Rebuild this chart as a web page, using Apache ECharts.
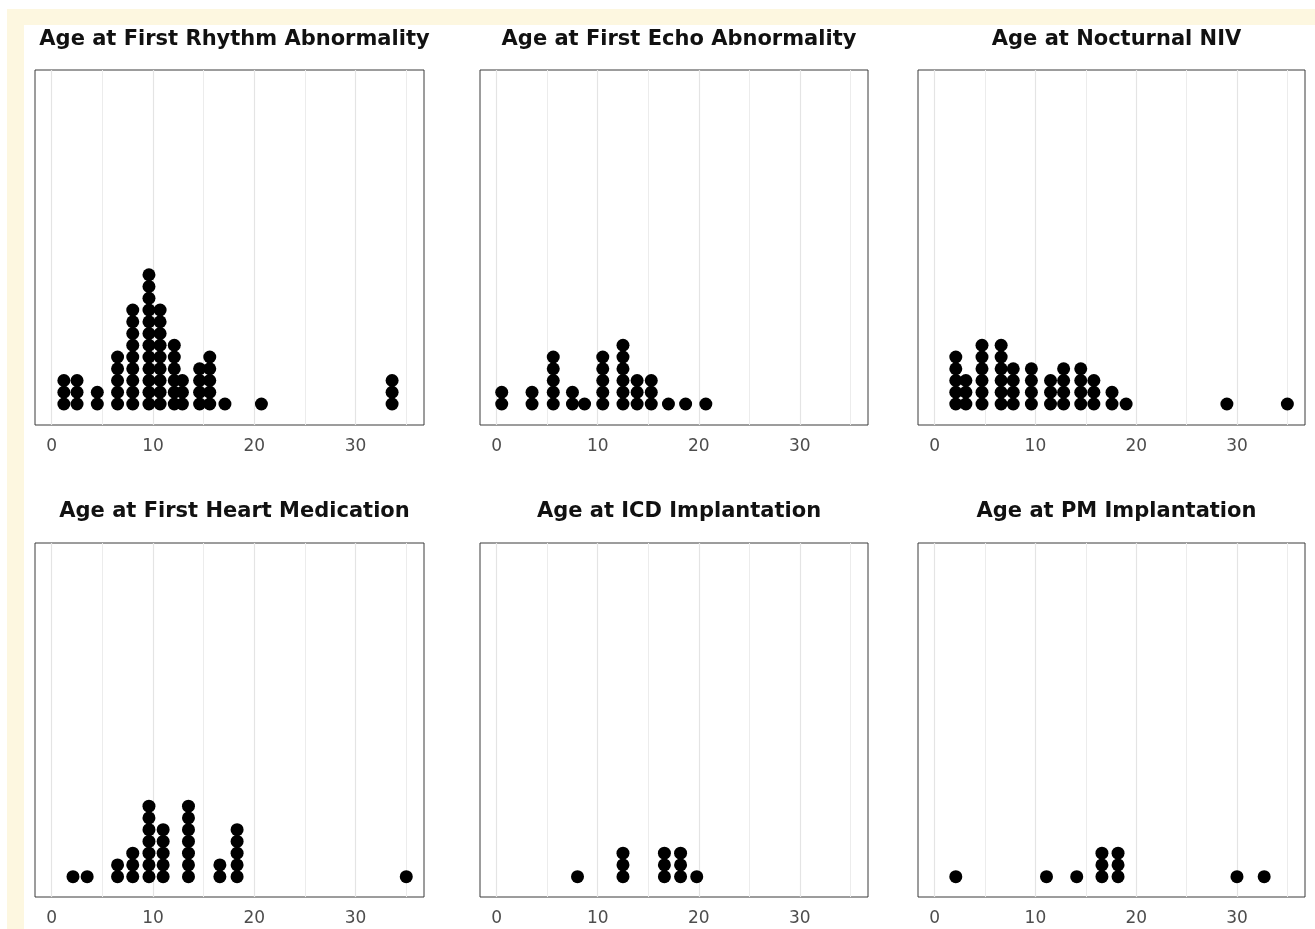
<!DOCTYPE html>
<html>
<head>
<meta charset="utf-8">
<script src="https://cdn.jsdelivr.net/npm/echarts@6/dist/echarts.min.js"></script>
<style>
  html, body { margin: 0; padding: 0; background: #ffffff; }
  #chart { width: 1315px; height: 929px; }
</style>
</head>
<body>
<div id="chart"></div>
<script>
// ---- data (bin centre ages and dot counts per bin) ----
const titles = [
  'Age at First Rhythm Abnormality',
  'Age at First Echo Abnormality',
  'Age at Nocturnal NIV',
  'Age at First Heart Medication',
  'Age at ICD Implantation',
  'Age at PM Implantation'
];
const rhythmAges   = [1.2, 2.5, 4.5, 6.5, 8.0, 9.6, 10.7, 12.1, 12.9, 14.6, 15.6, 17.1, 20.7, 33.6];
const rhythmCounts = [3, 3, 2, 5, 9, 12, 9, 6, 3, 4, 5, 1, 1, 3];
const echoAges     = [0.5, 3.5, 5.6, 7.5, 8.7, 10.5, 12.5, 13.9, 15.3, 17.0, 18.7, 20.7];
const echoCounts   = [2, 2, 5, 2, 1, 5, 6, 3, 3, 1, 1, 1];
const nivAges      = [2.1, 3.1, 4.7, 6.6, 7.8, 9.6, 11.5, 12.8, 14.5, 15.8, 17.6, 19.0, 29.0, 35.0];
const nivCounts    = [5, 3, 6, 6, 4, 4, 3, 4, 4, 3, 2, 1, 1, 1];
const medAges      = [2.1, 3.5, 6.5, 8.0, 9.6, 11.0, 13.5, 16.6, 18.3, 35.0];
const medCounts    = [1, 1, 2, 3, 7, 5, 7, 2, 5, 1];
const icdAges      = [8.0, 12.5, 16.6, 18.2, 19.8];
const icdCounts    = [1, 3, 3, 3, 1];
const pmAges       = [2.1, 11.1, 14.1, 16.6, 18.2, 30.0, 32.7];
const pmCounts     = [1, 1, 1, 3, 3, 1, 1];
const xTickLabels  = [0, 10, 20, 30];
const majorGrid    = [0, 10, 20, 30];
const minorGrid    = [5, 15, 25, 35];

const panels = [
  [rhythmAges, rhythmCounts], [echoAges, echoCounts], [nivAges, nivCounts],
  [medAges, medCounts], [icdAges, icdCounts], [pmAges, pmCounts]
];

// ---- layout ----
const cols = [{left: 35, width: 389}, {left: 480, width: 388}, {left: 918, width: 387}];
const rows = [
  {top: 70, height: 355, ymin: -0.787, ymax: 29.43, titleTop: 24},
  {top: 543, height: 354, ymin: -0.728, ymax: 29.40, titleTop: 496}
];

const grid = [], xAxis = [], yAxis = [], series = [], title = [];
panels.forEach((p, i) => {
  const r = rows[Math.floor(i / 3)], c = cols[i % 3];
  grid.push({left: c.left, top: r.top, width: c.width, height: r.height,
    show: true, borderColor: '#3a3a3a', borderWidth: 1, backgroundColor: '#ffffff', containLabel: false});
  title.push({text: titles[i], left: c.left + c.width / 2, top: r.titleTop, textAlign: 'center',
    textStyle: {fontFamily: 'DejaVu Sans', fontWeight: 'bold', fontSize: 21, color: '#111111'}});
  xAxis.push({gridIndex: i, type: 'value', min: -1.65, max: 36.75,
    axisLine: {show: false},
    axisTick: {show: true, customValues: xTickLabels, length: 4, lineStyle: {color: '#3a3a3a', width: 1}},
    axisLabel: {show: true, customValues: xTickLabels, margin: 13, fontSize: 17,
      fontFamily: 'DejaVu Sans', color: '#4d4d4d'},
    splitLine: {show: false}});
  yAxis.push({gridIndex: i, type: 'value', min: r.ymin, max: r.ymax, show: false,
    splitLine: {show: false}});
  // grid lines drawn through the x scale
  series.push({type: 'line', xAxisIndex: i, yAxisIndex: i, data: [], silent: true, z: 1,
    markLine: {silent: true, z: 1, symbol: 'none', animation: false, label: {show: false},
      data: majorGrid.map(v => ({xAxis: v, lineStyle: {color: '#e4e4e4', width: 1.2, type: 'solid'}}))
        .concat(minorGrid.map(v => ({xAxis: v, lineStyle: {color: '#ececec', width: 1, type: 'solid'}})))}});
  // stacked dots
  const dots = [];
  p[0].forEach((age, j) => { for (let k = 1; k <= p[1][j]; k++) dots.push([age, k]); });
  series.push({type: 'scatter', xAxisIndex: i, yAxisIndex: i, data: dots, z: 10, clip: false,
    symbol: 'circle', symbolSize: 13, itemStyle: {color: '#000000', opacity: 1}, silent: true});
});

const chart = echarts.init(document.getElementById('chart'), null, {renderer: 'canvas'});
chart.setOption({
  backgroundColor: '#ffffff',
  animation: false,
  graphic: [
    {type: 'rect', shape: {x: 7, y: 9, width: 1308, height: 16}, style: {fill: '#fdf7e0'}, z: -10},
    {type: 'rect', shape: {x: 7, y: 9, width: 17, height: 920}, style: {fill: '#fdf7e0'}, z: -10}
  ],
  title, grid, xAxis, yAxis, series
});
</script>
</body>
</html>
